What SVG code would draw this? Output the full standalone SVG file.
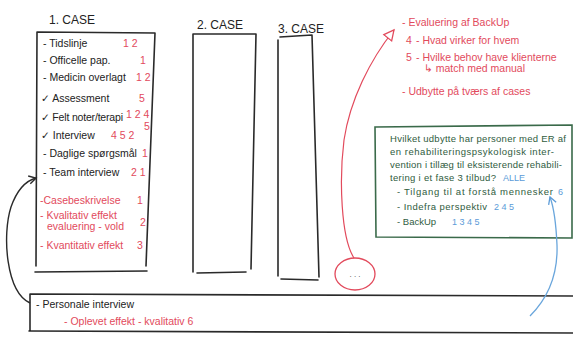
<svg xmlns="http://www.w3.org/2000/svg" width="573" height="338" viewBox="0 0 573 338">
<style>
text{font-family:"Liberation Sans","DejaVu Sans",sans-serif;}
.k{fill:#222;font-size:10.5px;}
.r{fill:#e24a5c;font-size:10.5px;}
.t{fill:#222;font-size:12px;}
.g{fill:#2f5c3e;font-size:9.5px;}
.b{fill:#5b9bd8;font-size:9px;}
.box{fill:none;stroke:#2a2a2a;stroke-width:1.6;stroke-linecap:round;}
.gbox{fill:none;stroke:#3a6a4a;stroke-width:1.6;}
</style>
<defs>
<marker id="ak" markerWidth="10" markerHeight="10" refX="8" refY="5" orient="auto" markerUnits="userSpaceOnUse"><path d="M1,1 L8,5 L1,9" fill="none" stroke="#2a2a2a" stroke-width="1.4"/></marker>
<marker id="ar" markerWidth="14" markerHeight="14" refX="11" refY="7" orient="auto" markerUnits="userSpaceOnUse"><path d="M1,2 L11,7 L1,12 Z" fill="#fff" stroke="#e24a5c" stroke-width="1.3"/></marker>
<marker id="ab" markerWidth="10" markerHeight="10" refX="8" refY="5" orient="auto" markerUnits="userSpaceOnUse"><path d="M1,1 L8,5 L1,9" fill="none" stroke="#5b9bd8" stroke-width="1.3"/></marker>
</defs>
<rect width="573" height="338" fill="#fff"/>

<g id="case1">
<text class="t" x="49" y="24">1. CASE</text>
<path class="box" d="M37,32 L155,33 M37,32 L36,266 M155,33 L146,266 M35,272 L147,271"/>
<text class="k" x="43" y="47">- Tidslinje</text><text class="r" x="123" y="47">1 2</text>
<text class="k" x="43" y="64">- Officelle pap.</text><text class="r" x="140" y="64">1</text>
<text class="k" x="43" y="81">- Medicin overlagt</text><text class="r" x="136" y="81">1 2</text>
<text class="k" x="41" y="102">✓ Assessment</text><text class="r" x="139" y="102">5</text>
<text class="k" x="41" y="121" font-size="10" textLength="82">✓ Felt noter/terapi</text><text class="r" x="126" y="118" font-size="8.5">1 2 4</text><text class="r" x="144" y="130" font-size="7.5">5</text>
<text class="k" x="41" y="139">✓ Interview</text><text class="r" x="111" y="139">4 5  2</text>
<text class="k" x="43" y="157">- Daglige spørgsmål</text><text class="r" x="142" y="157">1</text>
<text class="k" x="43" y="176">- Team interview</text><text class="r" x="131" y="176">2 1</text>
<text class="r" x="40" y="204">-Casebeskrivelse</text><text class="r" x="137" y="204">1</text>
<text class="r" x="40" y="219" font-size="9.5">- Kvalitativ effekt</text>
<text class="r" x="47" y="230" font-size="9.5">evaluering - vold</text><text class="r" x="140" y="226">2</text>
<text class="r" x="40" y="249">- Kvantitativ effekt</text><text class="r" x="137" y="249">3</text>
</g>

<g id="case2">
<text class="t" x="197" y="29">2. CASE</text>
<path class="box" d="M193,34 L256,34 M193,34 L193,272 M256,34 L251,269 M197,273 L246,272"/>
</g>

<g id="case3">
<text class="t" x="278" y="33">3. CASE</text>
<path class="box" d="M280,37 L312,35 M278,40 L278,276 M312,35 L319,277 M281,279 L318,280"/>
</g>

<g id="more">
<ellipse cx="355" cy="274" rx="20" ry="16" fill="none" stroke="#e24a5c" stroke-width="1.3"/>
<text x="355" y="277" text-anchor="middle" fill="#444" font-size="8" font-family="Liberation Sans,sans-serif">. . .</text>
</g>

<g id="notes">
<text class="r" x="402" y="26">- Evaluering af BackUp</text>
<text class="r" x="406" y="44">4</text><text class="r" x="416" y="44">- Hvad virker for hvem</text>
<text class="r" x="406" y="61">5</text><text class="r" x="416" y="61">- Hvilke behov have klienterne</text>
<text class="r" x="424" y="72" font-size="9">↳ match med manual</text>
<text class="r" x="402" y="95">- Udbytte på tværs af cases</text>
</g>

<g id="question">
<path class="gbox" d="M375,127 L572,125 L572,238 L376,237 Z"/>
<text class="g" x="390" y="142" textLength="176">Hvilket udbytte har personer med ER af</text>
<text class="g" x="390" y="155" textLength="164">en rehabiliteringspsykologisk inter-</text>
<text class="g" x="390" y="168" textLength="172">vention i tillæg til eksisterende rehabili-</text>
<text class="g" x="390" y="181" textLength="106">tering i et fase 3 tilbud?</text><text class="b" x="503" y="181" font-size="7.5">ALLE</text>
<text class="g" x="397" y="195" font-size="10" textLength="156">- Tilgang til at forstå mennesker</text><text class="b" x="558" y="195">6</text>
<text class="g" x="397" y="210" font-size="10" textLength="90">- Indefra perspektiv</text><text class="b" x="494" y="210">2 4 5</text>
<text class="g" x="397" y="225" font-size="10">- BackUp</text><text class="b" x="452" y="225">1 3 4 5</text>
</g>

<g id="personale">
<path class="box" d="M30,294 L573,296 M30,294 L30,331 M29,331 L573,333"/>
<text class="k" x="36" y="308">- Personale interview</text>
<text class="r" x="64" y="325">- Oplevet effekt - kvalitativ 6</text>
</g>

<g id="connectors">
<path d="M30,303 C6,292 2,235 11,207 C17,190 25,181 36,178" fill="none" stroke="#2a2a2a" stroke-width="1.4" marker-end="url(#ak)"/>
<path d="M354,258 C341,238 339,180 344,140 C350,100 370,60 394,30" fill="none" stroke="#e24a5c" stroke-width="1.2" marker-end="url(#ar)"/>
<path d="M530,316 C548,298 558,275 557,245 C556,222 554,208 550,197" fill="none" stroke="#6aa6dc" stroke-width="1.3" marker-end="url(#ab)"/>
</g>
</svg>
